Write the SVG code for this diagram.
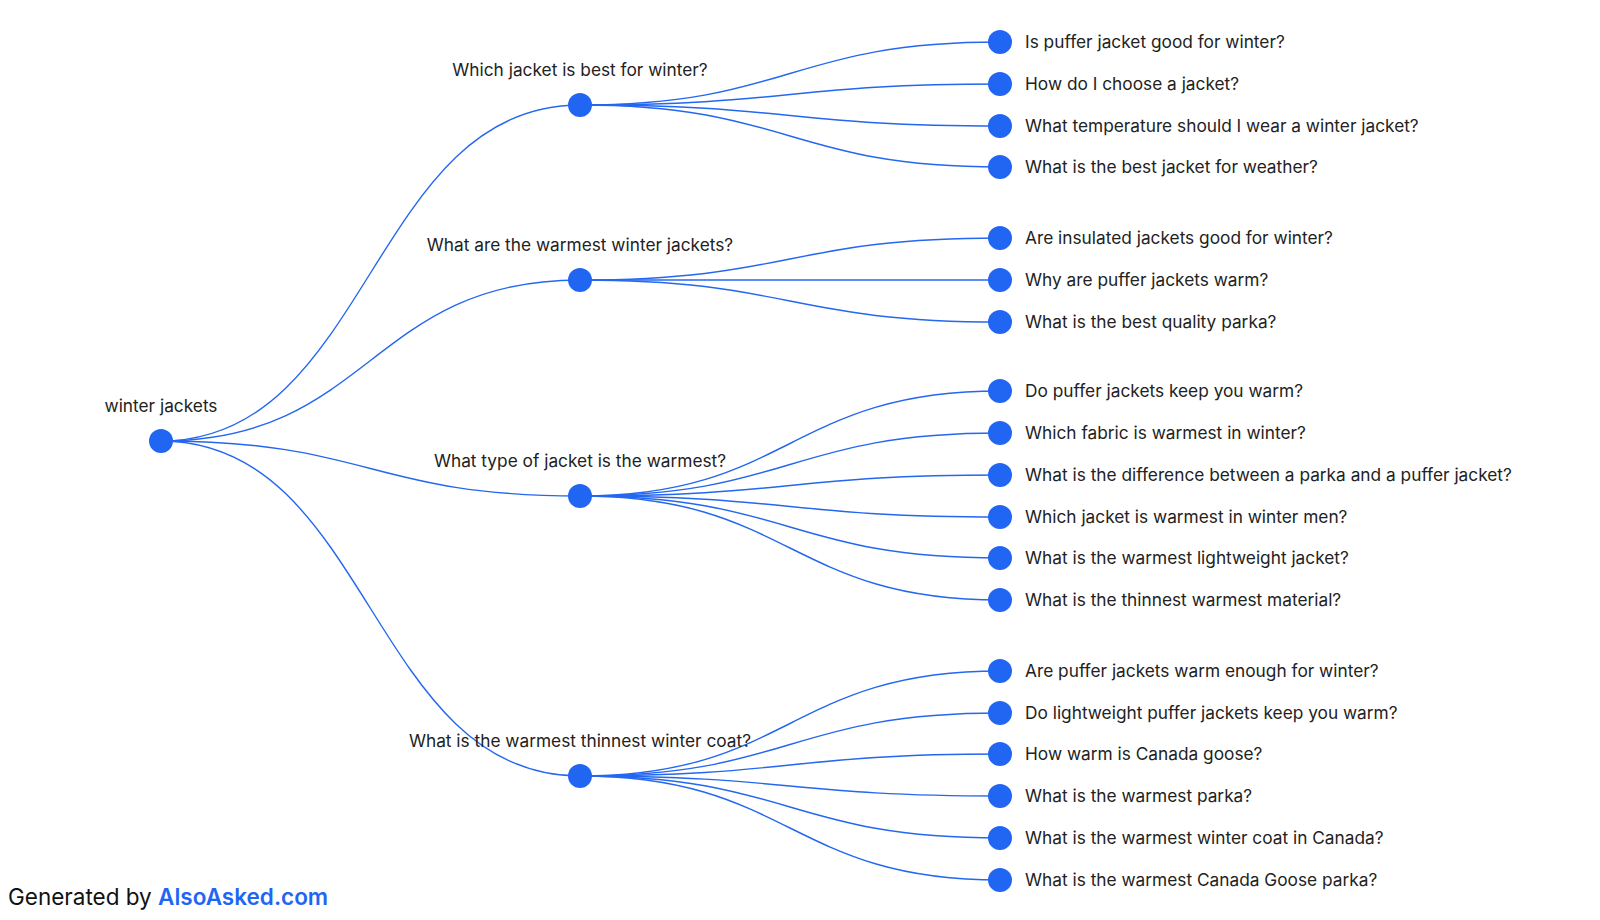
<svg xmlns="http://www.w3.org/2000/svg" width="1600" height="920" viewBox="0 0 1600 920">
<style>
.bg{fill:#ffffff}
.link{fill:none;stroke:#2467f0;stroke-width:1.4}
.node circle{fill:#2166f3}
.lbl{font-family:Inter,"Liberation Sans",Arial,sans-serif;font-size:17.3px;fill:#222222}
.mid{text-anchor:middle}
.foot{font-family:Inter,"Liberation Sans",Arial,sans-serif;font-size:22.5px;fill:#111111}
.brand{fill:#1f66f5;font-weight:600}
</style>
<rect class="bg" x="0" y="0" width="1600" height="920"/>
<g id="connectors">
<path class="link" d="M161,441 C370.5,441 370.5,105 580,105"/>
<path class="link" d="M161,441 C370.5,441 370.5,280 580,280"/>
<path class="link" d="M161,441 C370.5,441 370.5,496 580,496"/>
<path class="link" d="M161,441 C370.5,441 370.5,776 580,776"/>
<path class="link" d="M580,105 C790,105 790,42 1000,42"/>
<path class="link" d="M580,105 C790,105 790,84 1000,84"/>
<path class="link" d="M580,105 C790,105 790,126 1000,126"/>
<path class="link" d="M580,105 C790,105 790,167 1000,167"/>
<path class="link" d="M580,280 C790,280 790,238 1000,238"/>
<path class="link" d="M580,280 C790,280 790,280 1000,280"/>
<path class="link" d="M580,280 C790,280 790,322 1000,322"/>
<path class="link" d="M580,496 C790,496 790,391 1000,391"/>
<path class="link" d="M580,496 C790,496 790,433 1000,433"/>
<path class="link" d="M580,496 C790,496 790,475 1000,475"/>
<path class="link" d="M580,496 C790,496 790,517 1000,517"/>
<path class="link" d="M580,496 C790,496 790,558 1000,558"/>
<path class="link" d="M580,496 C790,496 790,600 1000,600"/>
<path class="link" d="M580,776 C790,776 790,671 1000,671"/>
<path class="link" d="M580,776 C790,776 790,713 1000,713"/>
<path class="link" d="M580,776 C790,776 790,754 1000,754"/>
<path class="link" d="M580,776 C790,776 790,796 1000,796"/>
<path class="link" d="M580,776 C790,776 790,838 1000,838"/>
<path class="link" d="M580,776 C790,776 790,880 1000,880"/>
</g>
<g id="n-root" class="node"><circle cx="161" cy="441" r="12"/><text class="lbl mid" x="161" y="412">winter jackets</text></g>
<g id="n-a" class="node"><circle cx="580" cy="105" r="12"/><text class="lbl mid" x="580" y="76">Which jacket is best for winter?</text></g>
<g id="n-b" class="node"><circle cx="580" cy="280" r="12"/><text class="lbl mid" x="580" y="251">What are the warmest winter jackets?</text></g>
<g id="n-c" class="node"><circle cx="580" cy="496" r="12"/><text class="lbl mid" x="580" y="467">What type of jacket is the warmest?</text></g>
<g id="n-d" class="node"><circle cx="580" cy="776" r="12"/><text class="lbl mid" x="580" y="747">What is the warmest thinnest winter coat?</text></g>
<g id="n-a1" class="node"><circle cx="1000" cy="42" r="12"/><text class="lbl" x="1025" y="48">Is puffer jacket good for winter?</text></g>
<g id="n-a2" class="node"><circle cx="1000" cy="84" r="12"/><text class="lbl" x="1025" y="90">How do I choose a jacket?</text></g>
<g id="n-a3" class="node"><circle cx="1000" cy="126" r="12"/><text class="lbl" x="1025" y="132">What temperature should I wear a winter jacket?</text></g>
<g id="n-a4" class="node"><circle cx="1000" cy="167" r="12"/><text class="lbl" x="1025" y="173">What is the best jacket for weather?</text></g>
<g id="n-b1" class="node"><circle cx="1000" cy="238" r="12"/><text class="lbl" x="1025" y="244">Are insulated jackets good for winter?</text></g>
<g id="n-b2" class="node"><circle cx="1000" cy="280" r="12"/><text class="lbl" x="1025" y="286">Why are puffer jackets warm?</text></g>
<g id="n-b3" class="node"><circle cx="1000" cy="322" r="12"/><text class="lbl" x="1025" y="328">What is the best quality parka?</text></g>
<g id="n-c1" class="node"><circle cx="1000" cy="391" r="12"/><text class="lbl" x="1025" y="397">Do puffer jackets keep you warm?</text></g>
<g id="n-c2" class="node"><circle cx="1000" cy="433" r="12"/><text class="lbl" x="1025" y="439">Which fabric is warmest in winter?</text></g>
<g id="n-c3" class="node"><circle cx="1000" cy="475" r="12"/><text class="lbl" x="1025" y="481">What is the difference between a parka and a puffer jacket?</text></g>
<g id="n-c4" class="node"><circle cx="1000" cy="517" r="12"/><text class="lbl" x="1025" y="523">Which jacket is warmest in winter men?</text></g>
<g id="n-c5" class="node"><circle cx="1000" cy="558" r="12"/><text class="lbl" x="1025" y="564">What is the warmest lightweight jacket?</text></g>
<g id="n-c6" class="node"><circle cx="1000" cy="600" r="12"/><text class="lbl" x="1025" y="606">What is the thinnest warmest material?</text></g>
<g id="n-d1" class="node"><circle cx="1000" cy="671" r="12"/><text class="lbl" x="1025" y="677">Are puffer jackets warm enough for winter?</text></g>
<g id="n-d2" class="node"><circle cx="1000" cy="713" r="12"/><text class="lbl" x="1025" y="719">Do lightweight puffer jackets keep you warm?</text></g>
<g id="n-d3" class="node"><circle cx="1000" cy="754" r="12"/><text class="lbl" x="1025" y="760">How warm is Canada goose?</text></g>
<g id="n-d4" class="node"><circle cx="1000" cy="796" r="12"/><text class="lbl" x="1025" y="802">What is the warmest parka?</text></g>
<g id="n-d5" class="node"><circle cx="1000" cy="838" r="12"/><text class="lbl" x="1025" y="844">What is the warmest winter coat in Canada?</text></g>
<g id="n-d6" class="node"><circle cx="1000" cy="880" r="12"/><text class="lbl" x="1025" y="886">What is the warmest Canada Goose parka?</text></g>
<text class="foot" x="8" y="905">Generated by <tspan class="brand">AlsoAsked.com</tspan></text>
</svg>
